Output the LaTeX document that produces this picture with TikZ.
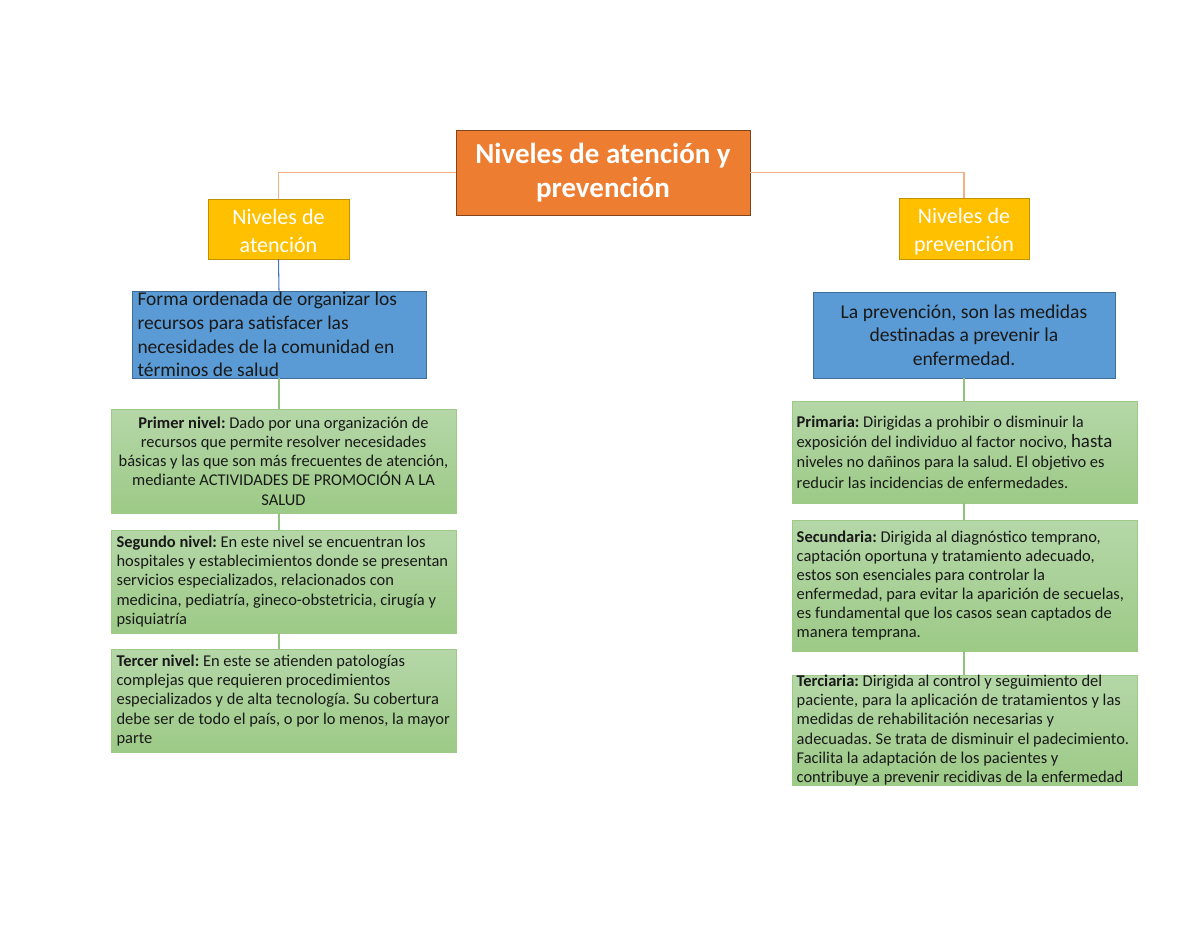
\documentclass[tikz,border=0pt]{standalone}
\usepackage{fontspec}
\setmainfont{Carlito}
\usepackage{xcolor}
\frenchspacing

\definecolor{titleorange}{HTML}{ED7D31}
\definecolor{lightorange}{HTML}{F4B183}
\definecolor{levelyellow}{HTML}{FFC000}
\definecolor{defblue}{HTML}{5B9BD5}
\definecolor{lineblue}{HTML}{4472C4}
\definecolor{greentop}{HTML}{B5D7A8}
\definecolor{greenbot}{HTML}{9DCA87}
\definecolor{linegreen}{HTML}{93C47D}

\tikzset{
    titlebox/.style={fill=titleorange, draw=titleorange!55!black, line width=0.5pt, inner sep=0pt},
    levelbox/.style={fill=levelyellow, draw=levelyellow!75!black, line width=0.4pt, inner sep=0pt},
    defbox/.style={fill=defblue, draw=defblue!70!black, line width=0.5pt, inner sep=0pt},
    stagebox/.style={top color=greentop, bottom color=greenbot, draw=greenbot, line width=0.4pt, inner sep=0pt},
    greentext/.style={inner sep=0pt, font=\fontsize{10.9}{12.7}\selectfont, text=black!90},
    leftin/.style={anchor=west, xshift=0.13cm, align=left},
    orangeline/.style={draw=lightorange, line width=0.7pt},
    blueline/.style={draw=lineblue, line width=0.7pt},
    greenline/.style={draw=linegreen, line width=0.7pt}
}

\begin{document}
\begin{tikzpicture}[x=0.023283cm, y=-0.023283cm]
        \useasboundingbox (0,0) rectangle (1200,927);

        % Title
        \node[titlebox, minimum width=6.845cm, minimum height=1.979cm,
              label={[inner sep=0pt, align=center, text=white,
                      font=\fontsize{19.2}{22.5}\selectfont\bfseries]center:{Niveles de atención y\\prevención}}]
              (title) at (603,172.5) {};

        % Levels
        \node[levelbox, minimum width=3.283cm, minimum height=1.397cm,
              label={[inner sep=0pt, align=center, text=white, yshift=-0.04cm,
                      font=\fontsize{14.6}{18.5}\selectfont]center:{Niveles de\\atención}}]
              (atn) at (278.5,229) {};
        \node[levelbox, minimum width=3.027cm, minimum height=1.420cm,
              label={[inner sep=0pt, align=center, text=white, yshift=-0.08cm,
                      font=\fontsize{14.6}{18.5}\selectfont]center:{Niveles de\\prevención}}]
              (prv) at (964,228.5) {};

        % Definitions
        \node[defbox, minimum width=6.845cm, minimum height=2.026cm,
              label={[inner sep=0pt, leftin, text=black!90,
                      font=\fontsize{12.9}{15.8}\selectfont]west:{Forma ordenada de organizar los\\recursos para satisfacer las\\necesidades de la comunidad en\\términos de salud}}]
              (defA) at (279,334.5) {};
        \node[defbox, minimum width=7.031cm, minimum height=2.002cm,
              label={[inner sep=0pt, align=center, text=black!90,
                      font=\fontsize{13}{15.6}\selectfont]center:{La prevención, son las medidas\\destinadas a prevenir la\\enfermedad.}}]
              (defP) at (964,335) {};

        % Niveles de atencion
        \node[stagebox, minimum width=8.033cm, minimum height=2.421cm,
              label={[greentext, align=center]center:{\textbf{Primer nivel:} Dado por una organización de\\recursos que permite resolver necesidades\\básicas y las que son más frecuentes de atención,\\mediante ACTIVIDADES DE PROMOCIÓN A LA\\SALUD}}]
              (n1) at (283.5,461) {};
        \node[stagebox, minimum width=8.033cm, minimum height=2.398cm,
              label={[greentext, leftin]west:{\textbf{Segundo nivel:} En este nivel se encuentran los\\hospitales y establecimientos donde se presentan\\servicios especializados, relacionados con\\medicina, pediatría, gineco-obstetricia, cirugía y\\psiquiatría}}]
              (n2) at (283.5,581.5) {};
        \node[stagebox, minimum width=8.033cm, minimum height=2.398cm,
              label={[greentext, leftin]west:{\textbf{Tercer nivel:} En este se atienden patologías\\complejas que requieren procedimientos\\especializados y de alta tecnología. Su cobertura\\debe ser de todo el país, o por lo menos, la mayor\\parte}}]
              (n3) at (283.5,700.5) {};

        % Niveles de prevencion
        \node[stagebox, minimum width=8.033cm, minimum height=2.375cm,
              label={[greentext, font=\fontsize{10.9}{13.5}\selectfont, leftin, xshift=-0.02cm]west:{\textbf{Primaria:} Dirigidas a prohibir o disminuir la\\exposición del individuo al factor nocivo, {\fontsize{12.5}{13.5}\selectfont hasta}\\niveles no dañinos para la salud. El objetivo es\\reducir las incidencias de enfermedades.}}]
              (p1) at (964.5,452) {};
        \node[stagebox, minimum width=8.033cm, minimum height=3.050cm,
              label={[greentext, leftin, xshift=-0.02cm]west:{\textbf{Secundaria:} Dirigida al diagnóstico temprano,\\captación oportuna y tratamiento adecuado,\\estos son esenciales para controlar la\\enfermedad, para evitar la aparición de secuelas,\\es fundamental que los casos sean captados de\\manera temprana.}}]
              (p2) at (964.5,585.5) {};
        \node[stagebox, minimum width=8.033cm, minimum height=2.561cm,
              label={[greentext, leftin, xshift=-0.02cm]west:{\textbf{Terciaria:} Dirigida al control y seguimiento del\\paciente, para la aplicación de tratamientos y las\\medidas de rehabilitación necesarias y\\adecuadas. Se trata de disminuir el padecimiento.\\Facilita la adaptación de los pacientes y\\contribuye a prevenir recidivas de la enfermedad}}]
              (p3) at (964.5,730) {};

        % Connectors
        \draw[orangeline] (title.west) -| (atn.north);
        \draw[orangeline] (title.east) -| (prv.north);
        \draw[blueline] (atn.south) -- (defA.north);
        \draw[greenline] (defA.south) -- (defA.south |- n1.north);
        \draw[greenline] (defA.south |- n1.south) -- (defA.south |- n2.north);
        \draw[greenline] (defA.south |- n2.south) -- (defA.south |- n3.north);
        \draw[greenline] (defP.south) -- (defP.south |- p1.north);
        \draw[greenline] (defP.south |- p1.south) -- (defP.south |- p2.north);
        \draw[greenline] (defP.south |- p2.south) -- (defP.south |- p3.north);
\end{tikzpicture}
\end{document}
